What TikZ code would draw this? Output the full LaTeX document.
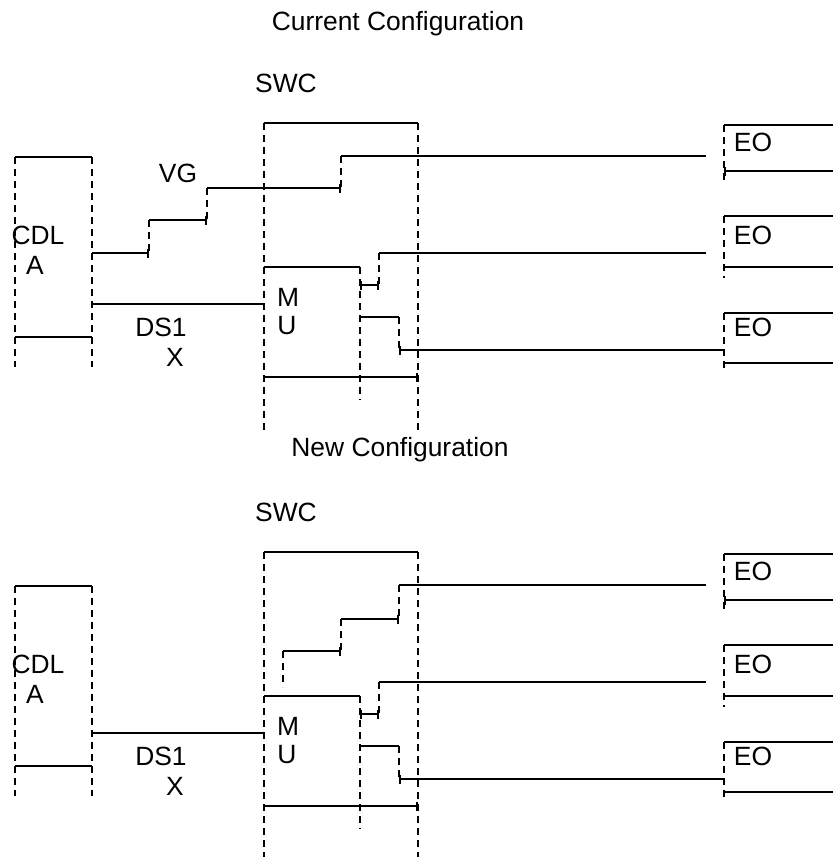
\documentclass[tikz,border=0pt]{standalone}
\usepackage{fontspec}
\setmainfont{Liberation Sans}
\usetikzlibrary{arrows.meta}
\tikzset{
  wire/.style={line width=1.8pt},
  life/.style={line width=1.8pt, dash pattern=on 7pt off 5pt},
  lbl/.style={font=\fontsize{26.4}{30}\selectfont, inner sep=0pt},
  endbar/.style={-{Bar[width=9pt,line width=1.8pt]}},
  startbar/.style={{Bar[width=9pt,line width=1.8pt]}-},
  bothbar/.style={{Bar[width=9pt,line width=1.8pt]}-{Bar[width=9pt,line width=1.8pt]}}
}

\begin{document}
\begin{tikzpicture}[x=1pt,y=-1pt]
  \useasboundingbox (0,0) rectangle (833,857);

  \node[lbl] (curtitle) at (398,24) {Current Configuration};
  \node[lbl] (newtitle) at (400,450) {New Configuration};

  % parts that both configurations share
  \foreach \dy/\sec in {0/cur,429/new}{
    \begin{scope}[yshift=-\dy pt]
      % CDLA
      \draw[life] (15,157) -- (15,367);
      \draw[life] (92,157) -- (92,367);
      \draw[wire] (15,157) -- (92,157);
      \draw[wire] (15,337) -- (92,337);
      \node[lbl] (cdl-\sec) at (38,235) {CDL};
      \node[lbl] (cdla-\sec) at (35,265) {A};
      % DS1X
      \draw[wire] (92,304) -- (264,304);
      \node[lbl] (ds-\sec) at (161,327) {DS1};
      \node[lbl] (dsx-\sec) at (175,357) {X};
      % SWC
      \node[lbl] (swc-\sec) at (286,83) {SWC};
      \draw[life] (264,123) -- (264,432);
      \draw[life] (418,123) -- (418,432);
      \draw[wire] (264,123) -- (418,123);
      \draw[wire,endbar] (264,377) -- (418,377);
      % MU
      \node[lbl] (mu-\sec) at (288,297) {M};
      \node[lbl] (muu-\sec) at (287,326) {U};
      \draw[wire] (264,267) -- (360,267);
      \draw[life] (360,267) -- (360,400);
      \draw[wire,bothbar] (360,285) -- (379,285);
      \draw[life] (379,253) -- (379,285);
      \draw[wire] (379,253) -- (706,253);
      \draw[wire] (360,317) -- (399,317);
      \draw[life] (399,317) -- (399,350);
      \draw[wire,startbar] (399,350) -- (724,350);
      % EO
      \draw[wire] (724,125) -- (833,125);
      \draw[life] (724,125) -- (724,182);
      \draw[wire,startbar] (724,171) -- (833,171);
      \node[lbl] (eoa-\sec) at (753,142) {EO};
      \draw[wire] (724,216) -- (833,216);
      \draw[life] (724,216) -- (724,278);
      \draw[wire] (724,267) -- (833,267);
      \node[lbl] (eob-\sec) at (753,235) {EO};
      \draw[wire] (724,313) -- (833,313);
      \draw[life] (724,313) -- (724,372);
      \draw[wire] (724,363) -- (833,363);
      \node[lbl] (eoc-\sec) at (753,327) {EO};
    \end{scope}
  }

  % VG, current
  \node[lbl] (vg) at (178,173) {VG};
  \draw[wire,endbar] (92,253) -- (149,253);
  \draw[life] (149,220) -- (149,253);
  \draw[wire,endbar] (149,220) -- (207,220);
  \draw[life] (207,188) -- (207,220);
  \draw[wire,endbar] (207,188) -- (341,188);
  \draw[life] (341,156) -- (341,188);
  \draw[wire] (341,156) -- (706,156);

  % VG, new
  \draw[life] (283,651) -- (283,687);
  \draw[wire,endbar] (283,651) -- (341,651);
  \draw[life] (341,619) -- (341,651);
  \draw[wire,endbar] (341,619) -- (399,619);
  \draw[life] (399,585) -- (399,619);
  \draw[wire] (399,585) -- (706,585);
\end{tikzpicture}
\end{document}
